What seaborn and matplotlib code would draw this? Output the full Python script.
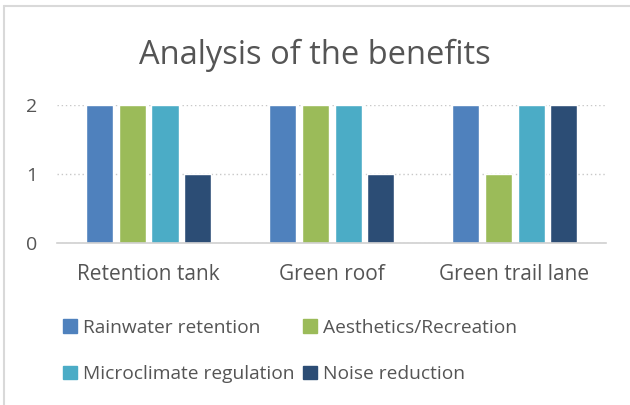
import pandas as pd
import matplotlib.pyplot as plt
import seaborn as sns
from matplotlib.patches import Rectangle

# ================================================================
# DATA
# ================================================================
categories = ["Retention tank", "Green roof", "Green trail lane"]
series = ["Rainwater retention", "Aesthetics/Recreation",
          "Microclimate regulation", "Noise reduction"]
rainwater = [2, 2, 2]
aesthetics = [2, 2, 1]
microclimate = [2, 2, 2]
noise = [1, 1, 2]
colors = ["#4F81BD", "#9BBB59", "#4BACC6", "#2C4D75"]

rows = []
for name, vals in zip(series, [rainwater, aesthetics, microclimate, noise]):
    for cat, v in zip(categories, vals):
        rows.append({"category": cat, "series": name, "value": v})
df = pd.DataFrame(rows)

# ================================================================
# PLOT
# ================================================================
sns.set_style("white")
plt.rcParams["font.family"] = ["Open Sans", "DejaVu Sans"]
text_color = "#555555"

fig = plt.figure(figsize=(6.3, 4.05), dpi=100)
ax = fig.add_axes([0.0905, 0.40, 0.8715, 0.341])

sns.barplot(data=df, x="category", y="value", hue="series",
            palette=colors, width=0.72, gap=0.18, saturation=1,
            ax=ax, legend=False)

ax.set_ylim(0, 2)
ax.set_xlim(-0.5, 2.5)
ax.set_yticks([0, 1, 2])
ax.set_xlabel("")
ax.set_ylabel("")
ax.yaxis.grid(True, linestyle=(0, (1, 2)), color="#C8C8C8", linewidth=1)
ax.set_axisbelow(True)
for s in ["top", "right", "left"]:
    ax.spines[s].set_visible(False)
ax.spines["bottom"].set_color("#D0D0D0")
ax.spines["bottom"].set_linewidth(1.2)

ax.tick_params(axis="y", length=0, labelsize=14, labelcolor=text_color, pad=14)
ax.tick_params(axis="x", length=0, labelsize=15, labelcolor=text_color, pad=15)
ax.set_xticks([-0.5, 0.5, 1.5, 2.5], minor=True)
ax.tick_params(axis="x", which="minor", length=6, color="#D0D0D0", width=1.2)

fig.suptitle("Analysis of the benefits", y=0.905, fontsize=23.5, color=text_color)

handles = [Rectangle((0, 0), 1, 1, color=c) for c in colors]
order = [0, 2, 1, 3]
fig.legend([handles[i] for i in order], [series[i] for i in order],
           ncol=2, loc="upper left", bbox_to_anchor=(0.088, 0.232),
           frameon=False, fontsize=13.8, labelcolor=text_color,
           handlelength=0.7, handleheight=0.7, handletextpad=0.35,
           columnspacing=0.45, labelspacing=1.5, borderaxespad=0)

# light frame like the chart area border
fig.add_artist(plt.Line2D([0.007, 0.007], [0, 0.985], color="#D9D9D9", lw=1.5))
fig.add_artist(plt.Line2D([0.007, 1], [0.985, 0.985], color="#D9D9D9", lw=1.5))

plt.savefig("out.png", dpi=100)
plt.close()
